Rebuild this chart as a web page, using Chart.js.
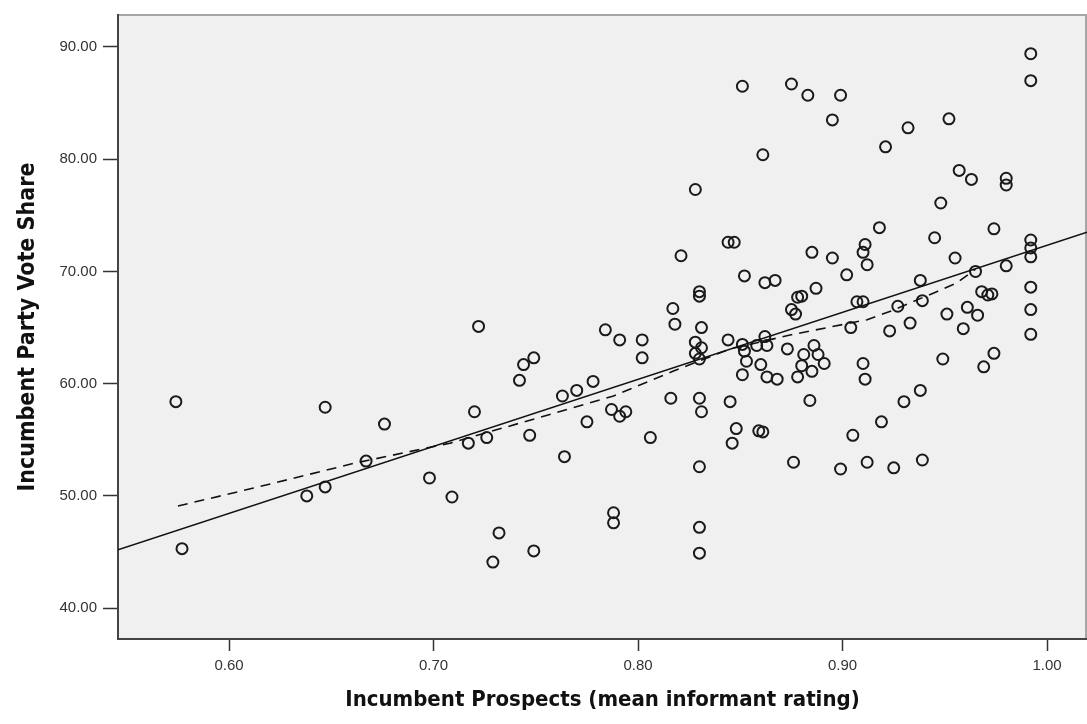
<!DOCTYPE html>
<html>
<head>
<meta charset="utf-8">
<script src="https://cdn.jsdelivr.net/npm/chart.js@4.4.1/dist/chart.umd.min.js"></script>
<style>
  html, body { margin: 0; padding: 0; background: #fff; }
  #wrap { width: 1087px; height: 724px; }
</style>
</head>
<body>
<div id="wrap"><canvas id="scatter" width="1087" height="724"></canvas></div>
<script>
// incumbent prospects (x) and vote share (y)
const prospects = [
  0.574, 0.577, 0.638, 0.647, 0.647, 0.667, 0.676, 0.698, 0.709, 0.717,
  0.720, 0.722, 0.726, 0.729, 0.732, 0.742, 0.744, 0.749, 0.747, 0.749,
  0.763, 0.770, 0.778, 0.764, 0.775, 0.784, 0.787, 0.791, 0.794, 0.788,
  0.788, 0.791, 0.802, 0.802, 0.806, 0.816, 0.817, 0.818, 0.821, 0.828,
  0.830, 0.831, 0.830, 0.830, 0.830, 0.828, 0.831, 0.828, 0.830, 0.830,
  0.830, 0.831, 0.844, 0.847, 0.844, 0.845, 0.848, 0.846, 0.851, 0.852,
  0.851, 0.852, 0.853, 0.851, 0.858, 0.859, 0.860, 0.861, 0.862, 0.867,
  0.862, 0.863, 0.863, 0.868, 0.861, 0.873, 0.875, 0.877, 0.875, 0.878,
  0.880, 0.883, 0.885, 0.887, 0.886, 0.881, 0.888, 0.880, 0.885, 0.891,
  0.878, 0.884, 0.876, 0.899, 0.895, 0.895, 0.902, 0.899, 0.904, 0.905,
  0.907, 0.910, 0.910, 0.911, 0.911, 0.910, 0.912, 0.912, 0.918, 0.919,
  0.921, 0.923, 0.925, 0.927, 0.930, 0.932, 0.933, 0.938, 0.938, 0.939,
  0.939, 0.945, 0.948, 0.949, 0.951, 0.952, 0.955, 0.957, 0.959, 0.961,
  0.963, 0.965, 0.966, 0.968, 0.971, 0.973, 0.969, 0.974, 0.974, 0.980,
  0.980, 0.980, 0.992, 0.992, 0.992, 0.992, 0.992, 0.992, 0.992, 0.992
];
const voteShare = [
  58.4, 45.3, 50.0, 50.8, 57.9, 53.1, 56.4, 51.6, 49.9, 54.7,
  57.5, 65.1, 55.2, 44.1, 46.7, 60.3, 61.7, 62.3, 55.4, 45.1,
  58.9, 59.4, 60.2, 53.5, 56.6, 64.8, 57.7, 57.1, 57.5, 48.5,
  47.6, 63.9, 63.9, 62.3, 55.2, 58.7, 66.7, 65.3, 71.4, 77.3,
  58.7, 57.5, 52.6, 47.2, 44.9, 63.7, 63.2, 62.7, 62.2, 68.2,
  67.8, 65.0, 72.6, 72.6, 63.9, 58.4, 56.0, 54.7, 86.5, 69.6,
  63.5, 62.9, 62.0, 60.8, 63.4, 55.8, 61.7, 80.4, 69.0, 69.2,
  64.2, 63.4, 60.6, 60.4, 55.7, 63.1, 66.6, 66.2, 86.7, 67.7,
  67.8, 85.7, 71.7, 68.5, 63.4, 62.6, 62.6, 61.6, 61.1, 61.8,
  60.6, 58.5, 53.0, 85.7, 83.5, 71.2, 69.7, 52.4, 65.0, 55.4,
  67.3, 67.3, 61.8, 60.4, 72.4, 71.7, 70.6, 53.0, 73.9, 56.6,
  81.1, 64.7, 52.5, 66.9, 58.4, 82.8, 65.4, 59.4, 69.2, 67.4,
  53.2, 73.0, 76.1, 62.2, 66.2, 83.6, 71.2, 79.0, 64.9, 66.8,
  78.2, 70.0, 66.1, 68.2, 67.9, 68.0, 61.5, 62.7, 73.8, 70.5,
  78.3, 77.7, 89.4, 87.0, 72.8, 72.1, 71.3, 68.6, 66.6, 64.4
];

// linear fit line (solid) and loess curve (dashed)
const fitX = [0.5457, 1.0195];
const fitY = [45.2, 73.5];
const loessX = [0.575, 0.612, 0.661, 0.708, 0.752, 0.788, 0.817, 0.845, 0.876, 0.912, 0.924, 0.946, 0.956, 0.965];
const loessY = [49.1, 50.7, 52.9, 54.7, 57.0, 58.9, 61.1, 63.1, 64.4, 65.7, 66.5, 68.2, 69.0, 70.2];

const xTicks = [0.6, 0.7, 0.8, 0.9, 1.0];
const yTicks = [40, 50, 60, 70, 80, 90];

const toPoints = (xs, ys) => xs.map((x, i) => ({ x: x, y: ys[i] }));

const plotFrame = {
  id: "plotFrame",
  beforeDraw(chart) {
    const { ctx, chartArea: a } = chart;
    ctx.save();
    ctx.fillStyle = "#f0f0f0";
    ctx.fillRect(a.left, a.top, a.right - a.left, a.bottom - a.top);
    ctx.strokeStyle = "#a6a6a6";
    ctx.lineWidth = 2;
    ctx.beginPath();
    ctx.moveTo(a.left, a.top);
    ctx.lineTo(a.right - 1, a.top);
    ctx.lineTo(a.right - 1, a.bottom);
    ctx.stroke();
    ctx.restore();
  }
};

const tickFont = { family: "'Liberation Sans', Arial, sans-serif", size: 15 };
const titleFont = { family: "'DejaVu Sans Condensed', 'Liberation Sans', Arial, sans-serif", size: 22, weight: "bold" };

new Chart(document.getElementById("scatter").getContext("2d"), {
  type: "scatter",
  data: {
    datasets: [
      {
        label: "fit",
        type: "line",
        data: toPoints(fitX, fitY),
        borderColor: "#111",
        borderWidth: 1.6,
        pointRadius: 0,
        fill: false
      },
      {
        label: "loess",
        type: "line",
        data: toPoints(loessX, loessY),
        borderColor: "#111",
        borderWidth: 1.6,
        borderDash: [10, 7],
        pointRadius: 0,
        tension: 0,
        fill: false
      },
      {
        label: "cases",
        data: toPoints(prospects, voteShare),
        pointRadius: 5.5,
        pointBorderWidth: 2,
        pointBorderColor: "#1a1a1a",
        pointBackgroundColor: "rgba(0,0,0,0)"
      }
    ]
  },
  plugins: [plotFrame],
  options: {
    responsive: false,
    animation: false,
    devicePixelRatio: 1,
    layout: { autoPadding: false, padding: { left: 0, top: 13, right: 0, bottom: 0 } },
    plugins: { legend: { display: false }, tooltip: { enabled: false } },
    scales: {
      x: {
        type: "linear",
        min: 0.5457,
        max: 1.0195,
        afterBuildTicks: (scale) => { scale.ticks = xTicks.map((v) => ({ value: v })); },
        afterFit: (scale) => { scale.height = 85; scale.paddingLeft = 0; scale.paddingRight = 0; },
        grid: { drawOnChartArea: false, drawTicks: true, tickLength: 12, color: "#333", tickWidth: 1.5 },
        border: { color: "#444", width: 2 },
        ticks: { color: "#333", font: tickFont, padding: 6, callback: (v) => Number(v).toFixed(2) },
        title: { display: true, text: "Incumbent Prospects (mean informant rating)", color: "#111", font: titleFont, padding: { bottom: 11 } }
      },
      y: {
        type: "linear",
        min: 37.25,
        max: 92.85,
        afterBuildTicks: (scale) => { scale.ticks = yTicks.map((v) => ({ value: v })); },
        afterFit: (scale) => { scale.width = 118; },
        grid: { drawOnChartArea: false, drawTicks: true, tickLength: 15, color: "#333", tickWidth: 1.5 },
        border: { color: "#444", width: 2 },
        ticks: { color: "#333", font: tickFont, padding: 6, callback: (v) => Number(v).toFixed(2) },
        title: { display: true, text: "Incumbent Party Vote Share", color: "#111", font: { ...titleFont, size: 23 }, padding: { top: 14 } }
      }
    }
  }
});
</script>
</body>
</html>
